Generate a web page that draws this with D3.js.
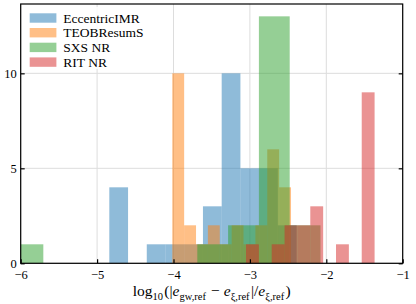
<!DOCTYPE html>
<meta charset="utf-8">
<style>
body { margin: 0; background: #fff; }
text { font-family: "Liberation Serif", "DejaVu Serif", serif; fill: #000; }
</style>
<body>
<svg id="chart" width="416" height="304"></svg>
<script src="https://cdn.jsdelivr.net/npm/d3@7/dist/d3.min.js"></script>
<script>

// series in plotting order
var seriesNames = ["EccentricIMR", "TEOBResumS", "SXS NR", "RIT NR"];
var seriesColors = ["#1f77b4", "#ff7f0e", "#2ca02c", "#d62728"];

// each series was binned into 10 equal bins between its own min and max
var binRanges = [[-4.840, -2.389], [-4.016, -2.462], [-6.107, -2.076], [-3.051, -1.368]];
var eccentricCounts = [4, 0, 1, 1, 1, 3, 10, 5, 5, 2];
var teobCounts = [10, 2, 1, 2, 1, 2, 1, 2, 6, 4];
var sxsCounts = [1, 0, 0, 0, 0, 0, 1, 2, 13, 2];
var ritCounts = [1, 0, 1, 2, 2, 3, 0, 1, 0, 9];
var allCounts = [eccentricCounts, teobCounts, sxsCounts, ritCounts];

var xTicks = [-6, -5, -4, -3, -2, -1];
var yTicks = [0, 5, 10];

var width = 416,
    height = 304,
    margin = {top: 4, right: 13.3, bottom: 40.7, left: 20.7},
    plotW = width - margin.left - margin.right,
    plotH = height - margin.top - margin.bottom;

var svg = d3.select("#chart");

var x = d3.scaleLinear().domain([-6, -1]).range([0, plotW]);
var yMax = d3.max(allCounts, function(c) { return d3.max(c); }) * 1.05;
var y = d3.scaleLinear().domain([0, yMax]).range([plotH, 0]);

var g = svg.append("g")
    .attr("transform", "translate(" + margin.left + "," + margin.top + ")");

svg.append("defs").append("clipPath")
    .attr("id", "plotClip")
  .append("rect")
    .attr("width", plotW)
    .attr("height", plotH);

// grid
g.append("g").selectAll("line.vgrid")
    .data(xTicks)
    .enter().append("line")
    .attr("x1", function(d) { return x(d); })
    .attr("x2", function(d) { return x(d); })
    .attr("y1", 0)
    .attr("y2", plotH)
    .attr("stroke", "#dddddd")
    .attr("stroke-width", 1);

g.append("g").selectAll("line.hgrid")
    .data(yTicks)
    .enter().append("line")
    .attr("x1", 0)
    .attr("x2", plotW)
    .attr("y1", function(d) { return y(d); })
    .attr("y2", function(d) { return y(d); })
    .attr("stroke", "#dddddd")
    .attr("stroke-width", 1);

// histograms
var bars = g.append("g").attr("clip-path", "url(#plotClip)");

allCounts.forEach(function(counts, si) {
  var lo = binRanges[si][0], hi = binRanges[si][1];
  var step = (hi - lo) / counts.length;
  var bins = counts.map(function(c, i) {
    return {x0: lo + i * step, x1: lo + (i + 1) * step, count: c};
  });
  bars.append("g").selectAll("rect")
    .data(bins.filter(function(b) { return b.count > 0; }))
    .enter().append("rect")
    .attr("x", function(b) { return x(b.x0); })
    .attr("width", function(b) { return x(b.x1) - x(b.x0); })
    .attr("y", function(b) { return y(b.count); })
    .attr("height", function(b) { return plotH - y(b.count); })
    .attr("fill", seriesColors[si])
    .attr("fill-opacity", 0.5);
});

// axes, ticks pointing inward
var xAxis = g.append("g")
    .attr("transform", "translate(0," + plotH + ")")
    .call(d3.axisBottom(x).tickValues(xTicks).tickSize(-4).tickPadding(7)
      .tickFormat(function(d) { return d3.format("d")(d).replace("-", "\u2212"); }));

var yAxis = g.append("g")
    .call(d3.axisLeft(y).tickValues(yTicks).tickSize(-4).tickPadding(4));

var yAxisR = g.append("g")
    .attr("transform", "translate(" + plotW + ",0)")
    .call(d3.axisRight(y).tickValues(yTicks).tickSize(-4).tickFormat(""));

[xAxis, yAxis, yAxisR].forEach(function(a) {
  a.select(".domain").remove();
  a.selectAll(".tick line").attr("stroke", "#000").attr("stroke-width", 1.2);
  a.selectAll("text")
    .attr("font-family", "Liberation Serif")
    .attr("font-size", 12.5)
    .attr("fill", "#000");
});

g.append("rect")
    .attr("width", plotW)
    .attr("height", plotH)
    .attr("fill", "none")
    .attr("stroke", "#000")
    .attr("stroke-width", 1.2);

// legend
var legend = g.append("g").attr("transform", "translate(4,3)");
legend.append("rect")
    .attr("width", 124)
    .attr("height", 62)
    .attr("fill", "#fff")
    .attr("fill-opacity", 0.85);

seriesNames.forEach(function(name, i) {
  var row = legend.append("g").attr("transform", "translate(5," + (6.3 + i * 14.7) + ")");
  row.append("rect")
    .attr("width", 26.7)
    .attr("height", 9.4)
    .attr("fill", seriesColors[i])
    .attr("fill-opacity", 0.5);
  row.append("text")
    .attr("x", 33.6)
    .attr("y", 9.2)
    .attr("font-size", 13.5)
    .text(name);
});

// x label
var mainSize = 15.5, subSize = 10.5, subDy = 3.5;
var xl = svg.append("text")
    .attr("x", margin.left + plotW / 2)
    .attr("y", 296)
    .attr("text-anchor", "middle")
    .attr("font-size", mainSize);

function part(txt, italic) {
  var t = xl.append("tspan").text(txt);
  if (italic) t.attr("font-style", "italic");
}
function sub(txt) {
  xl.append("tspan").attr("font-size", subSize).attr("dy", subDy).text(txt);
  xl.append("tspan").attr("font-size", mainSize).attr("dy", -subDy).text("\u200a");
}
part("log");
sub("10");
part("(|");
part("e", true);
sub("gw,ref");
part(" \u2212 ");
part("e", true);
sub("\u03be,ref");
part("|/");
part("e", true);
sub("\u03be,ref");
part(")");

</script>
</body>
